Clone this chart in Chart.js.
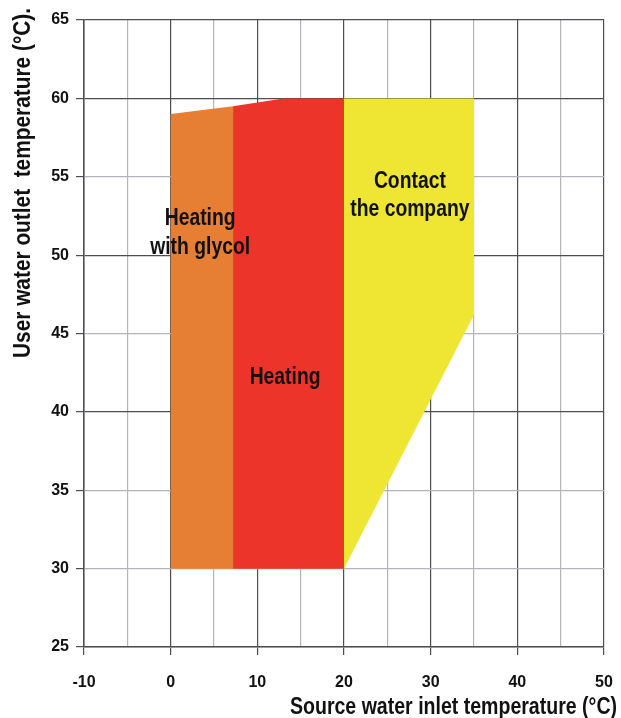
<!DOCTYPE html>
<html>
<head>
<meta charset="utf-8">
<script src="https://cdn.jsdelivr.net/npm/chart.js@4/dist/chart.umd.min.js"></script>
<style>
    html, body { margin: 0; padding: 0; background: #fff; }
    #wrap { width: 621px; height: 718px; }
</style>
</head>
<body>
<div id="wrap"><canvas id="chart" width="621" height="718"></canvas></div>
<script>
// operating envelope polygons (source inlet temp, user outlet temp)
const GLYCOL_X = [0, 0, 7.2, 7.2];
const GLYCOL_Y = [30, 59, 59.5, 30];
const HEATING_X = [7.2, 7.2, 13, 20, 20];
const HEATING_Y = [30, 59.5, 60, 60, 30];
const CONTACT_X = [20, 20, 35, 35, 20];
const CONTACT_Y = [30, 60, 60, 46.2, 30];

const X_TICKS = [-10, 0, 10, 20, 30, 40, 50];
const Y_TICKS = [25, 30, 35, 40, 45, 50, 55, 60, 65];

const AREA_LABELS = [
    { lines: ['Heating', 'with glycol'], x: 3.4, y: 51.4 },
    { lines: ['Heating'], x: 13.2, y: 42.2 },
    { lines: ['Contact', 'the company'], x: 27.6, y: 53.8 }
];

const X_TITLE = 'Source water inlet temperature (°C)';
const Y_TITLE = 'User water outlet  temperature (°C).';

const FONT = '"Liberation Sans", Arial, sans-serif';
const DARK = '#4d4d52';
const LIGHT = '#b4b4bc';

function toPoints(xs, ys) {
    return xs.map((x, i) => ({ x: x, y: ys[i] }));
}

function area(xs, ys, color) {
    return {
        data: toPoints(xs, ys),
        showLine: true,
        fill: 'shape',
        backgroundColor: color,
        borderColor: 'rgba(0,0,0,0)',
        borderWidth: 0,
        pointRadius: 0,
        tension: 0
    };
}

// condensed text: squeeze horizontally so it fits the given length
function squeezedText(ctx, text, x, y, len) {
    const w = ctx.measureText(text).width;
    const k = len ? len / w : 0.84;
    ctx.save();
    ctx.translate(x, y);
    ctx.scale(k, 1);
    ctx.fillText(text, 0, 0);
    ctx.restore();
}

// texts in the areas and both axis titles
const textPlugin = {
    id: 'texts',
    afterDatasetsDraw(chart) {
        const ctx = chart.ctx;
        const xs = chart.scales.x, ys = chart.scales.y;
        ctx.save();
        ctx.fillStyle = '#111';
        ctx.textAlign = 'center';
        ctx.textBaseline = 'middle';
        ctx.font = 'bold 23px ' + FONT;
        for (const lab of AREA_LABELS) {
            const cx = xs.getPixelForValue(lab.x);
            const cy = ys.getPixelForValue(lab.y);
            const lh = 28.5;
            const top = cy - (lab.lines.length - 1) * lh / 2;
            lab.lines.forEach((t, i) => squeezedText(ctx, t, cx, top + i * lh));
        }
        ctx.textBaseline = 'alphabetic';
        ctx.textAlign = 'right';
        squeezedText(ctx, X_TITLE, 617, 714, 327);
        ctx.translate(29.5, 8);
        ctx.rotate(-Math.PI / 2);
        squeezedText(ctx, Y_TITLE, 0, 0, 350);
        ctx.restore();
    }
};

let ctx = document.getElementById('chart').getContext('2d');
new Chart(ctx, {
    type: 'scatter',
    data: {
        datasets: [
            area(GLYCOL_X, GLYCOL_Y, '#e67e33'),
            area(HEATING_X, HEATING_Y, '#ec342b'),
            area(CONTACT_X, CONTACT_Y, '#eee632')
        ]
    },
    options: {
        responsive: false,
        animation: false,
        layout: { padding: { top: 20, right: 17, left: 0, bottom: 0 } },
        plugins: { legend: { display: false }, tooltip: { enabled: false } },
        scales: {
            x: {
                type: 'linear',
                min: -10, max: 50,
                afterFit(s) {
                    s.height = 71;
                    s.paddingLeft = 0;
                    s.paddingRight = 0;
                },
                afterBuildTicks(s) {
                    s.ticks = [];
                    for (let v = -10; v <= 50; v += 5) s.ticks.push({ value: v });
                },
                border: { color: DARK, width: 1.5 },
                grid: {
                    color: c => (c.tick && c.tick.value % 10 === 0) ? DARK : LIGHT,
                    tickColor: c => (c.tick && c.tick.value % 10 === 0) ? DARK : 'rgba(0,0,0,0)',
                    lineWidth: 1.2,
                    tickLength: 8
                },
                ticks: {
                    autoSkip: false,
                    maxRotation: 0,
                    padding: 18,
                    color: '#111',
                    font: { family: FONT, size: 16, weight: 'bold' },
                    callback: v => X_TICKS.includes(v) ? String(v) : ''
                }
            },
            y: {
                type: 'linear',
                min: 25, max: 65,
                afterFit(s) {
                    s.width = 84;
                    s.paddingTop = 0;
                    s.paddingBottom = 0;
                },
                afterBuildTicks(s) {
                    s.ticks = Y_TICKS.map(v => ({ value: v }));
                },
                border: { color: DARK, width: 1.5 },
                grid: {
                    color: c => (c.tick && [40, 50, 60, 65].includes(c.tick.value)) ? DARK : LIGHT,
                    tickColor: DARK,
                    lineWidth: 1.2,
                    tickLength: 8
                },
                ticks: {
                    padding: 7,
                    color: '#111',
                    font: { family: FONT, size: 16, weight: 'bold' }
                }
            }
        }
    },
    plugins: [textPlugin]
});
</script>
</body>
</html>
